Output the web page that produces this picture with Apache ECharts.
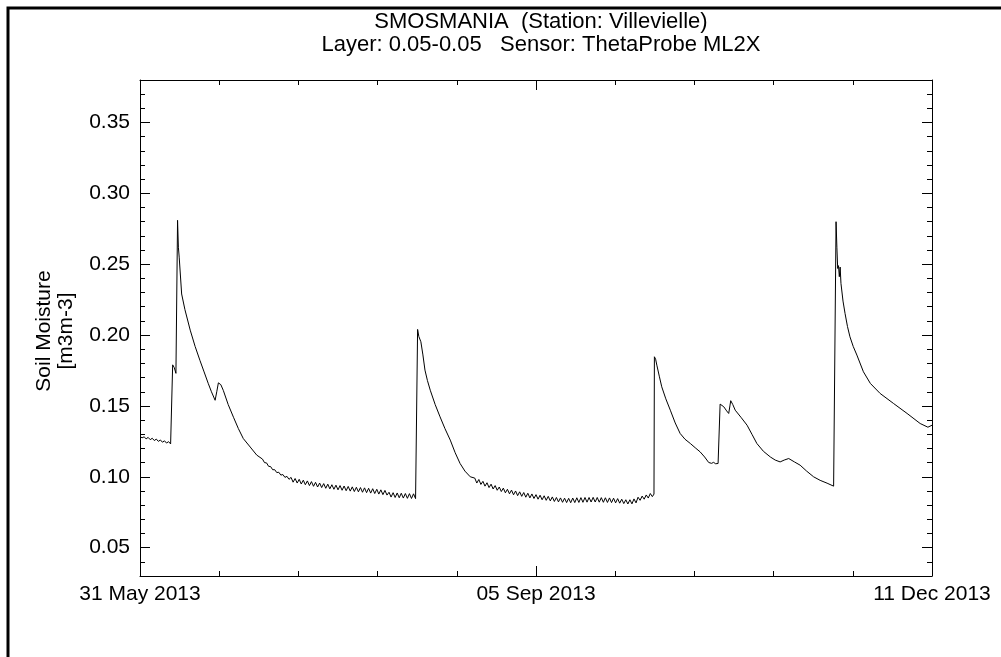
<!DOCTYPE html>
<html>
<head>
<meta charset="utf-8">
<title>SMOSMANIA Villevielle</title>
<script src="https://cdn.jsdelivr.net/npm/echarts@6/dist/echarts.min.js"></script>
<style>
    html, body { margin: 0; padding: 0; background: #fff; }
    #chart { width: 1001px; height: 657px; }
</style>
</head>
<body>
<div id="chart"></div>
<script>
// days counted from 31 May 2013
const dayOffset = [
    0, 0.5, 1, 1.5, 2, 2.5, 3, 3.5, 4, 4.5, 5, 5.5, 6, 6.5, 7, 7.5, 7.9,
    8.0, 8.4, 8.8, 9.2, 9.4, 9.6, 10.2, 11, 12.3, 13.5, 14.7, 15.7, 16.7, 17.5, 18.4, 18.8, 19.2, 19.8, 20.4,
    21.6, 22.9, 24.1, 25.3, 27, 28.6,
    30, 30.5, 31, 31.5, 32, 32.5, 33, 33.5, 34, 34.5, 35, 35.5, 36, 36.5,
    37, 37.5, 38, 38.5, 39, 39.5, 40, 40.5, 41, 41.5, 42, 42.5, 43, 43.5, 44, 44.5, 45, 45.5, 46, 46.5,
    47, 47.5, 48, 48.5, 49, 49.5, 50, 50.5, 51, 51.5, 52, 52.5, 53, 53.5, 54, 54.5, 55, 55.5, 56, 56.5,
    57, 57.5, 58, 58.5, 59, 59.5, 60, 60.5, 61, 61.5, 62, 62.5, 63, 63.5, 64, 64.5, 65, 65.5, 66, 66.5,
    67, 67.5, 67.9,
    68.0, 68.3, 68.8, 69.3, 69.8, 70.4, 71.1, 72.3, 73.5, 74.7, 76.0, 77.2, 78.4, 79.6, 80.9,
    82, 82.5, 83, 83.5, 84, 84.5, 85, 85.5, 86, 86.5, 87, 87.5, 88, 88.5, 89, 89.5, 90, 90.5, 91, 91.5,
    92, 92.5, 93, 93.5, 94, 94.5, 95, 95.5, 96, 96.5, 97, 97.5, 98, 98.5, 99, 99.5, 100, 100.5, 101, 101.5,
    102, 102.5, 103, 103.5, 104, 104.5, 105, 105.5, 106, 106.5, 107, 107.5, 108, 108.5, 109, 109.5, 110, 110.5,
    111, 111.5, 112, 112.5, 113, 113.5, 114, 114.5, 115, 115.5, 116, 116.5, 117, 117.5, 118, 118.5, 119, 119.5,
    120, 120.5, 121, 121.5, 122, 122.5, 123, 123.5, 124, 124.5, 125, 125.5, 125.9,
    126.0, 126.3, 126.6, 127.2, 127.8, 128.8, 129.9, 131.1, 132.3, 133.5, 134.8, 136, 137.2, 138.3, 139.3,
    140, 140.5, 141, 141.6, 141.9, 142.1, 142.5, 143.0, 143.7, 144.2, 144.5, 144.7, 145.2, 145.8, 147.2,
    148.7, 149.9, 151.1, 152.7, 154.4, 155.6, 156.8, 157.8, 158.9, 160.3, 161.7, 163.3, 165.0, 166.6, 168.3,
    169.9, 170.3, 170.5, 170.7, 170.9, 171.1, 171.3, 171.5, 171.7, 172.2, 172.7, 173.3, 173.9, 174.7, 175.6,
    177.2, 178.9, 181.3, 184.6, 187.9, 191.1, 193, 194
];
const moisture = [
    0.1285, 0.1275, 0.1282, 0.1268, 0.1278, 0.1262, 0.1272, 0.1256, 0.1266, 0.1250, 0.1260, 0.1244, 0.1254, 0.1238, 0.1248, 0.1232, 0.1225,
    0.179, 0.177, 0.173, 0.281, 0.262, 0.255, 0.229, 0.218, 0.2035, 0.192, 0.182, 0.174, 0.166, 0.160, 0.154, 0.160, 0.1663, 0.165, 0.161,
    0.151, 0.142, 0.134, 0.127, 0.121, 0.1153,
    0.1125, 0.1100, 0.1098, 0.1074, 0.1072, 0.1050, 0.1050, 0.1030, 0.1032, 0.1012, 0.1016, 0.0996, 0.1003, 0.0982,
    0.0996, 0.0962, 0.0988, 0.0956, 0.0982, 0.0949, 0.0976, 0.0944, 0.0971, 0.0938, 0.0966, 0.0933, 0.0961, 0.0928, 0.0956, 0.0924, 0.0952, 0.0919, 0.0948, 0.0915,
    0.0944, 0.0912, 0.0941, 0.0908, 0.0938, 0.0905, 0.0935, 0.0902, 0.0932, 0.0899, 0.0929, 0.0896, 0.0926, 0.0894, 0.0924, 0.0891, 0.0922, 0.0888, 0.0919, 0.0885,
    0.0916, 0.0882, 0.0912, 0.0878, 0.0908, 0.0874, 0.0904, 0.0871, 0.0891, 0.0857, 0.0888, 0.0854, 0.0886, 0.0852, 0.0884, 0.0850, 0.0882, 0.0848, 0.0881, 0.0847,
    0.0880, 0.0846, 0.0860,
    0.204, 0.199, 0.1953, 0.186, 0.1753, 0.168, 0.1611, 0.151, 0.1423, 0.134, 0.1259, 0.117, 0.1094, 0.104, 0.100,
    0.0991, 0.0956, 0.0981, 0.0946, 0.0968, 0.0934, 0.0958, 0.0924, 0.0948, 0.0914, 0.0938, 0.0905, 0.0928, 0.0896, 0.0920, 0.0887, 0.0912, 0.0880, 0.0906, 0.0873,
    0.0900, 0.0867, 0.0894, 0.0862, 0.0889, 0.0856, 0.0884, 0.0851, 0.0879, 0.0847, 0.0874, 0.0842, 0.0870, 0.0838, 0.0866, 0.0834, 0.0862, 0.0830, 0.0858, 0.0826,
    0.0854, 0.0823, 0.0851, 0.0820, 0.0849, 0.0818, 0.0848, 0.0817, 0.0850, 0.0818, 0.0852, 0.0819, 0.0853, 0.0820, 0.0854, 0.0821, 0.0854, 0.0822,
    0.0855, 0.0822, 0.0854, 0.0821, 0.0853, 0.0820, 0.0852, 0.0819, 0.0851, 0.0818, 0.0849, 0.0816, 0.0846, 0.0814, 0.0842, 0.0811, 0.0838, 0.0808,
    0.0838, 0.0809, 0.0844, 0.0816, 0.0856, 0.0834, 0.0864, 0.0842, 0.0872, 0.0850, 0.0882, 0.0860, 0.0878,
    0.1847, 0.183, 0.1788, 0.171, 0.1635, 0.155, 0.147, 0.138, 0.1306, 0.1265, 0.1235, 0.1205, 0.1176, 0.114, 0.1101,
    0.1095, 0.1102, 0.1092, 0.1094, 0.1100, 0.1513, 0.151, 0.1494, 0.1465, 0.1447, 0.150, 0.1537, 0.151, 0.147, 0.142,
    0.1364, 0.130, 0.1235, 0.118, 0.114, 0.1118, 0.1105, 0.1118, 0.1129, 0.1105, 0.1082, 0.104, 0.100, 0.0975, 0.0955,
    0.0934, 0.0935, 0.280, 0.262, 0.247, 0.249, 0.2412, 0.248, 0.2365, 0.224, 0.2153, 0.206, 0.1988, 0.192, 0.1859,
    0.1741, 0.1659, 0.1588, 0.1517, 0.1447, 0.1376, 0.135, 0.1364
];

const xTickLabels = ['31 May 2013', '05 Sep 2013', '11 Dec 2013'];
const yTicks = [0.05, 0.10, 0.15, 0.20, 0.25, 0.30, 0.35];
const yMinorTicks = [0.04, 0.06, 0.07, 0.08, 0.09, 0.11, 0.12, 0.13, 0.14, 0.16, 0.17, 0.18, 0.19,
    0.21, 0.22, 0.23, 0.24, 0.26, 0.27, 0.28, 0.29, 0.31, 0.32, 0.33, 0.34, 0.36, 0.37];

const FONT = 'Liberation Sans, Arial, Helvetica, sans-serif';
const seriesData = dayOffset.map((d, i) => [d, moisture[i]]);

let myChart = echarts.init(document.getElementById('chart'));

function xAxisCfg(pos, showLabel) {
    return {
        type: 'value',
        position: pos,
        min: 0,
        max: 194,
        interval: 97,
        axisLine: { show: true, lineStyle: { color: '#000', width: 1 } },
        axisTick: { show: true, inside: true, length: 10, lineStyle: { color: '#000' } },
        minorTick: { show: true, splitNumber: 5, length: 5, lineStyle: { color: '#000' } },
        splitLine: { show: false },
        minorSplitLine: { show: false },
        axisLabel: {
            show: showLabel,
            margin: 8,
            color: '#000',
            fontSize: 21,
            fontFamily: FONT,
            formatter: (v) => xTickLabels[Math.round(v / 97)] || ''
        }
    };
}

function yAxisCfg(pos, ticks, len, showLine, showLabel) {
    return {
        type: 'value',
        position: pos,
        min: 0.03,
        max: 0.38,
        axisLine: { show: showLine, lineStyle: { color: '#000', width: 1 } },
        axisTick: { show: true, inside: true, length: len, customValues: ticks, lineStyle: { color: '#000' } },
        splitLine: { show: false },
        axisLabel: {
            show: showLabel,
            customValues: yTicks,
            margin: 10,
            color: '#000',
            fontSize: 21,
            fontFamily: FONT,
            formatter: (v) => v.toFixed(2)
        }
    };
}

let option = {
    animation: false,
    backgroundColor: '#fff',
    title: {
        text: 'SMOSMANIA  (Station: Villevielle)\nLayer: 0.05-0.05   Sensor: ThetaProbe ML2X',
        left: 536,
        top: 5,
        textAlign: 'center',
        textStyle: {
            color: '#000',
            fontSize: 22,
            fontWeight: 'normal',
            fontFamily: FONT,
            lineHeight: 23
        }
    },
    grid: { left: 140, top: 80, right: 69, bottom: 81 },
    xAxis: [xAxisCfg('bottom', true), xAxisCfg('top', false)],
    yAxis: [
        yAxisCfg('left', yTicks, 10, true, true),
        yAxisCfg('left', yMinorTicks, 5, false, false),
        yAxisCfg('right', yTicks, 10, true, false),
        yAxisCfg('right', yMinorTicks, 5, false, false)
    ],
    graphic: [
        {
            type: 'rect',
            shape: { x: 8, y: 8, width: 1200, height: 1000 },
            style: { fill: 'none', stroke: '#000', lineWidth: 3 },
            silent: true
        },
        {
            type: 'text',
            x: 55,
            y: 331,
            rotation: Math.PI / 2,
            style: {
                text: 'Soil Moisture\n[m3m-3]',
                fill: '#000',
                font: '21px ' + FONT,
                lineHeight: 22,
                align: 'center',
                verticalAlign: 'middle'
            }
        }
    ],
    series: [{
        type: 'line',
        data: seriesData,
        xAxisIndex: 0,
        yAxisIndex: 0,
        showSymbol: false,
        lineStyle: { color: '#000', width: 1 },
        itemStyle: { color: '#000' }
    }]
};

option && myChart.setOption(option);
</script>
</body>
</html>
